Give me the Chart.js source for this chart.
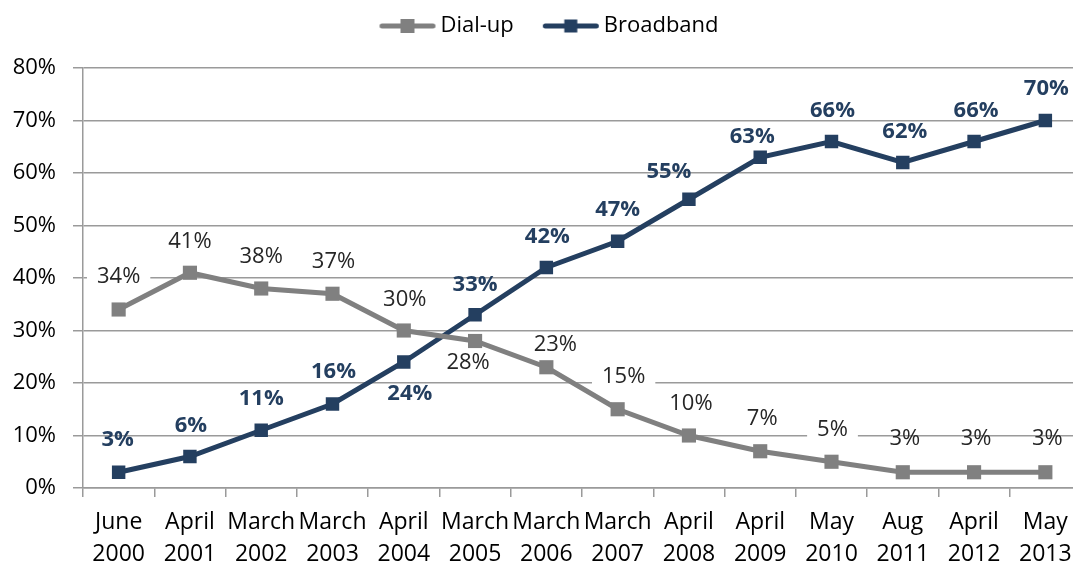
<!DOCTYPE html>
<html>
<head>
<meta charset="utf-8">
<script src="https://cdn.jsdelivr.net/npm/chart.js@4/dist/chart.umd.min.js"></script>
<style>
  html, body { margin: 0; padding: 0; background: #fff; overflow: hidden; }
  #wrap { width: 1091px; height: 570px; position: relative; }
</style>
</head>
<body>
<div id="wrap"><canvas id="c"></canvas></div>
<script>
// ---- data ----
const categories = [["June","2000"],["April","2001"],["March","2002"],["March","2003"],["April","2004"],["March","2005"],["March","2006"],["March","2007"],["April","2008"],["April","2009"],["May","2010"],["Aug","2011"],["April","2012"],["May","2013"]];
const seriesNames = ["Dial-up", "Broadband"];
const dialUp    = [34, 41, 38, 37, 30, 28, 23, 15, 10, 7, 5, 3, 3, 3];
const broadband = [3, 6, 11, 16, 24, 33, 42, 47, 55, 63, 66, 62, 66, 70];
const yTicks = [0, 10, 20, 30, 40, 50, 60, 70, 80];

// ---- styling ----
const FONT = "'Open Sans', 'Liberation Sans', sans-serif";
const DIAL_COLOR = '#808080';
const BROAD_COLOR = '#243F60';
const GRID_COLOR = '#9a9a9a';

// label placement offsets (px, relative to the point) - styling only
const labelStyle = [
  { color: '#262626', weight: 'normal',
    dx: [0, 0, 0, 1, 1, -7, 9, 6, 2, 2, 1, 2, 2, 2],
    dy: [-35, -33, -34, -34, -33, 20, -24, -34, -34, -34, -34, -35, -35, -35],
    bg: [true, false, false, false, false, false, false, true, false, false, true, false, false, false] },
  { color: BROAD_COLOR, weight: 'bold',
    dx: [-1, 1, 0, 1, 6, 0, 1, 0, -20, -8, 1, 2, 2, 1],
    dy: [-34, -33, -33, -34, 30, -32, -33, -33, -29, -22, -33, -33, -33, -34],
    bg: [false, false, false, false, false, false, false, false, false, false, false, false, false, false] }
];

function legendIcon(color, sq) {
  const c = document.createElement('canvas');
  c.width = 82; c.height = 18;
  const g = c.getContext('2d');
  g.strokeStyle = color; g.lineWidth = 5; g.lineCap = 'round';
  g.beginPath(); g.moveTo(26.5, 9); g.lineTo(77.5, 9); g.stroke();
  g.fillStyle = color;
  g.fillRect(52 - sq / 2, 9 - sq / 2, sq, sq);
  return c;
}
const legendIcons = [legendIcon(DIAL_COLOR, 14), legendIcon(BROAD_COLOR, 13)];

const labelPlugin = {
  id: 'pointLabels',
  afterInit(chart) {
    const lg = chart.legend;
    if (lg) {
      const of = lg.fit;
      lg.fit = function () { of.call(this); this.height += 23; };
      const od = lg.draw;
      lg.draw = function () {
        const ctx = this.ctx;
        ctx.save(); ctx.translate(-11, 2);
        od.call(this);
        ctx.restore();
      };
    }
  },
  beforeDatasetsDraw(chart) {
    const ctx = chart.ctx;
    ctx.save();
    chart.data.datasets.forEach((ds, di) => {
      const st = labelStyle[di];
      const meta = chart.getDatasetMeta(di);
      ctx.font = st.weight + ' 22px ' + FONT;
      meta.data.forEach((pt, i) => {
        if (!st.bg[i]) return;
        const text = ds.data[i] + '%';
        const w = ctx.measureText(text).width;
        const cx = pt.x + st.dx[i], cy = pt.y + st.dy[i];
        ctx.fillStyle = '#ffffff';
        ctx.fillRect(cx - w / 2 - 10, cy - 13, w + 20, 26);
      });
    });
    ctx.restore();
  },
  afterDatasetsDraw(chart) {
    const ctx = chart.ctx;
    ctx.save();
    chart.data.datasets.forEach((ds, di) => {
      const st = labelStyle[di];
      const meta = chart.getDatasetMeta(di);
      ctx.font = st.weight + ' 22px ' + FONT;
      ctx.fillStyle = st.color;
      ctx.textAlign = 'center';
      ctx.textBaseline = 'alphabetic';
      meta.data.forEach((pt, i) => {
        const text = ds.data[i] + '%';
        ctx.fillText(text, pt.x + st.dx[i], pt.y + st.dy[i] + 8);
      });
    });
    ctx.restore();
  }
};

new Chart(document.getElementById('c'), {
  type: 'line',
  data: {
    labels: categories,
    datasets: [
      { label: seriesNames[0], data: dialUp, borderColor: DIAL_COLOR, backgroundColor: DIAL_COLOR,
        borderWidth: 5, pointStyle: 'rect', pointRadius: 10, pointBorderWidth: 0, pointHoverRadius: 10,
        tension: 0, fill: false },
      { label: seriesNames[1], data: broadband, borderColor: BROAD_COLOR, backgroundColor: BROAD_COLOR,
        borderWidth: 5, pointStyle: 'rect', pointRadius: 9.5, pointBorderWidth: 0, pointHoverRadius: 9.5,
        tension: 0, fill: false }
    ]
  },
  options: {
    responsive: true,
    maintainAspectRatio: false,
    animation: false,
    events: [],
    layout: { padding: { left: 13, top: 0, right: 0, bottom: 0 } },
    plugins: {
      tooltip: { enabled: false },
      legend: {
        display: true,
        position: 'top',
        labels: {
          usePointStyle: true,
          pointStyleWidth: 66,
          padding: 13,
          color: '#000',
          font: { family: FONT, size: 22 },
          generateLabels(chart) {
            const items = Chart.defaults.plugins.legend.labels.generateLabels(chart);
            items.forEach((it, i) => { it.pointStyle = legendIcons[i]; });
            return items;
          }
        }
      }
    },
    scales: {
      x: {
        type: 'category',
        offset: true,
        afterFit(scale) { scale.height = 82; },
        grid: { display: true, drawOnChartArea: false, drawTicks: true, tickLength: 9, offset: true,
                color: GRID_COLOR, lineWidth: 1.5 },
        border: { display: true, color: GRID_COLOR, width: 1.5 },
        ticks: { color: '#000', maxRotation: 0, minRotation: 0, autoSkip: false, padding: 9,
                 font: { family: FONT, size: 23, lineHeight: 32 / 23 } }
      },
      y: {
        min: yTicks[0],
        max: yTicks[yTicks.length - 1],
        afterFit(scale) { scale.width = 70; },
        afterBuildTicks(scale) { scale.ticks = yTicks.map(v => ({ value: v })); },
        grid: { color: GRID_COLOR, lineWidth: 1.5, tickLength: 10, drawTicks: true },
        border: { display: true, color: GRID_COLOR, width: 1.5 },
        ticks: { color: '#000', padding: 17, font: { family: FONT, size: 22 },
                 callback: v => v + '%' }
      }
    }
  },
  plugins: [labelPlugin]
});
</script>
</body>
</html>
